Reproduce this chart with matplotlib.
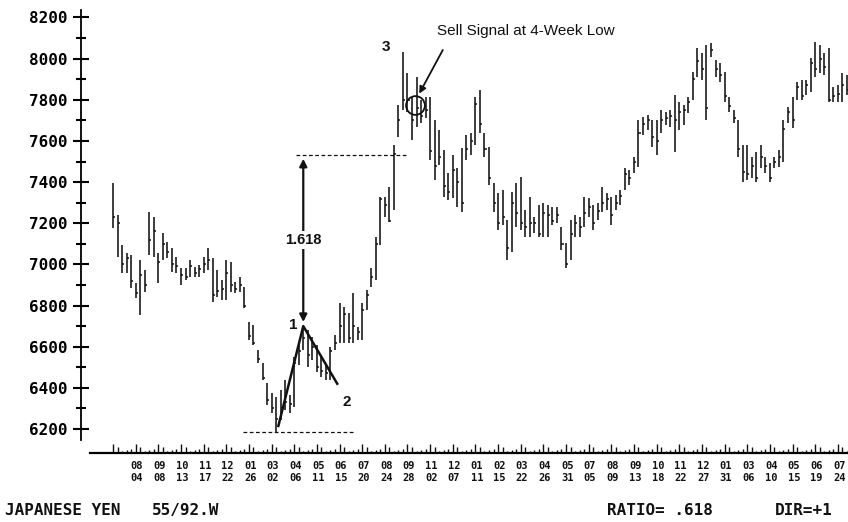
import matplotlib
matplotlib.use("Agg")
import matplotlib.pyplot as plt
from matplotlib.ticker import FixedLocator

# Weekly Japanese yen futures: high / low / close
highs = [
    7396, 7240, 7094, 7055, 7046, 6910, 7021, 6973, 7255, 7230,
    7055, 7153, 7109, 7080, 7036, 6982, 6982, 7021, 6987, 6997,
    7036, 7080, 7031, 6973, 6924, 7021, 7012, 6915, 6939, 6890,
    6720, 6705, 6584, 6521, 6424, 6375, 6356, 6390, 6438, 6365,
    6550, 6608, 6700, 6681, 6647, 6608, 6550, 6511, 6599, 6657,
    6812, 6793, 6764, 6861, 6696, 6812, 6876, 6982, 7133, 7328,
    7328, 7376, 7580, 7775, 8032, 7930, 7813, 7911, 7799, 7813,
    7813, 7702, 7653, 7556, 7444, 7532, 7468, 7566, 7629, 7639,
    7813, 7847, 7639, 7571, 7396, 7347, 7362, 7216, 7352, 7396,
    7425, 7264, 7328, 7230, 7289, 7298, 7289, 7279, 7279, 7182,
    7104, 7216, 7240, 7230, 7328, 7323, 7289, 7298, 7376, 7347,
    7328, 7337, 7362, 7468, 7459, 7522, 7702, 7716, 7726, 7702,
    7702, 7750, 7741, 7750, 7823, 7789, 7775, 7813, 7935, 8052,
    8027, 8066, 8076, 7993, 7979, 7935, 7813, 7750, 7702, 7580,
    7580, 7522, 7546, 7580, 7522, 7493, 7522, 7556, 7702, 7765,
    7813, 7886, 7896, 7896, 8003, 8081, 8066, 8027, 8052, 7862,
    7872, 7930, 7920,
]
lows = [
    7177, 7036, 6958, 6958, 6885, 6837, 6754, 6866, 7046, 7036,
    6910, 7021, 7031, 6963, 6958, 6900, 6924, 6939, 6939, 6939,
    6958, 6973, 6817, 6842, 6827, 6827, 6866, 6861, 6866, 6788,
    6633, 6608, 6521, 6438, 6317, 6278, 6185, 6244, 6292, 6278,
    6307, 6511, 6584, 6501, 6535, 6477, 6453, 6438, 6440, 6584,
    6618, 6618, 6618, 6618, 6633, 6633, 6778, 6890, 6924, 7094,
    7230, 7206, 7264, 7619, 7750, 7741, 7605, 7668, 7687, 7711,
    7507, 7410, 7483, 7328, 7313, 7323, 7279, 7255, 7507, 7532,
    7580, 7639, 7522, 7386, 7255, 7167, 7191, 7021, 7060, 7182,
    7167, 7133, 7133, 7153, 7133, 7133, 7133, 7191, 7201, 7070,
    6982, 7021, 7133, 7133, 7182, 7230, 7167, 7216, 7255, 7264,
    7191, 7264, 7289, 7362, 7386, 7444, 7473, 7629, 7653, 7571,
    7532, 7639, 7677, 7668, 7546, 7653, 7677, 7736, 7799, 7911,
    7896, 7702, 8008, 7911, 7886, 7789, 7741, 7687, 7522, 7400,
    7410, 7420, 7400, 7468, 7444, 7400, 7468, 7473, 7498, 7687,
    7663, 7799, 7799, 7823, 7838, 7911, 7930, 7920, 7789, 7789,
    7789, 7789, 7823,
]
closes = [
    7230, 7200, 7000, 7030, 6920, 6860, 6950, 6900, 7120, 7160,
    7010, 7100, 7060, 7000, 6990, 6950, 6940, 6990, 6960, 6980,
    7000, 7020, 6850, 6870, 6880, 6960, 6900, 6880, 6900, 6800,
    6650, 6620, 6540, 6450, 6340, 6300, 6250, 6300, 6330, 6320,
    6520, 6580, 6640, 6560, 6600, 6500, 6480, 6470, 6580, 6620,
    6700, 6760, 6640, 6700, 6670, 6780, 6850, 6940, 7100, 7320,
    7290, 7210, 7535, 7700, 7800, 7800, 7700, 7760, 7720, 7750,
    7550, 7480, 7520, 7380, 7350, 7460, 7400, 7300, 7560, 7600,
    7780, 7680, 7560, 7420, 7300, 7200, 7230, 7080, 7300, 7250,
    7200, 7180, 7200, 7200, 7150, 7250, 7240, 7210, 7240, 7100,
    7000, 7150, 7200, 7180, 7250, 7280, 7200, 7260, 7300, 7320,
    7240, 7300, 7330, 7440, 7420, 7500, 7640, 7680, 7700, 7620,
    7600, 7700, 7710, 7720, 7700, 7740, 7750, 7790, 7900, 7990,
    7950, 7760, 8040, 7950, 7920, 7820, 7770, 7710, 7560, 7450,
    7440, 7480, 7420, 7520, 7480, 7420, 7500, 7520, 7660, 7740,
    7700, 7860, 7820, 7870, 7980, 7950, 8000, 7960, 7800, 7820,
    7830, 7870, 7850,
]

# Date scale: month / day every five weeks
months = ["08", "09", "10", "11", "12", "01", "03", "04", "05", "06", "07",
          "08", "09", "11", "12", "01", "02", "03", "04", "05", "07", "08",
          "09", "10", "11", "12", "01", "03", "04", "05", "06", "07"]
days = ["04", "08", "13", "17", "22", "26", "02", "06", "11", "15", "20",
        "24", "28", "02", "07", "11", "15", "22", "26", "31", "05", "09",
        "13", "18", "22", "27", "31", "06", "10", "15", "19", "24"]

price_ticks = list(range(6200, 8201, 200))
price_minor = list(range(6300, 8101, 200))

# Swing points used for the Fibonacci projection
low_week, swing_low = 36, 6185
peak_week, point1 = 42, 6700
p2_week, point2 = 48, 6440
ratio = 0.618
target = point1 + (1 + ratio) * (point1 - swing_low)

weeks = list(range(len(highs)))
label_weeks = [5 + 5 * k for k in range(len(months))]

fig = plt.figure(figsize=(8.48, 5.22), dpi=100)
ax = fig.add_axes([0, 0, 1, 1])
ax.set_xlim(-24.95, 162.25)
ax.set_ylim(5748, 8285)
ppx = 4.86          # price units per pixel (vertical)
wpx = 1 / 4.53      # weeks per pixel (horizontal)
x_left = -24.95

ink = "#111111"

# price bars
ax.vlines(weeks, lows, highs, color=ink, lw=1.15)
ax.hlines(closes, weeks, [w + 0.45 for w in weeks], color=ink, lw=1.1)

# axes frame
for side in ("top", "right"):
    ax.spines[side].set_visible(False)
base = 6200 - 24 * ppx
ax.spines["bottom"].set_position(("data", base))
ax.spines["bottom"].set_bounds(-5.1, 162.25)
ax.spines["bottom"].set_linewidth(1.6)
ax.spines["left"].set_position(("data", -32 * wpx))
ax.spines["left"].set_bounds(6147, 8236)
ax.spines["left"].set_linewidth(1.3)

ax.yaxis.set_major_locator(FixedLocator(price_ticks))
ax.yaxis.set_minor_locator(FixedLocator(price_minor))
ax.tick_params(axis="y", which="major", direction="inout", length=11,
               width=1.5, pad=4, labelsize=11.5)
ax.tick_params(axis="y", which="minor", direction="inout", length=6.5, width=1.5)
for lab in ax.get_yticklabels():
    lab.set_fontfamily("DejaVu Sans Mono")
    lab.set_fontweight("bold")
ax.set_xticks([])

# weekly marks on the time scale
tick_h = []
for w in weeks:
    r = (w - 5) % 5
    tick_h.append({0: 9, 1: 6, 2: 2, 3: 3, 4: 4}[r])
ax.vlines(weeks, base, [base + h * ppx for h in tick_h], color=ink, lw=1.0)

mono = dict(family="DejaVu Sans Mono", weight="bold", color=ink)
for w, m, d in zip(label_weeks, months, days):
    ax.text(w + 0.3, 6020, m, ha="center", va="center", fontsize=7.5, **mono)
    ax.text(w + 0.3, 5962, d, ha="center", va="center", fontsize=7.5, **mono)

ax.text(x_left + 5 * wpx, 5806, "JAPANESE YEN", ha="left", va="center", fontsize=11.5, **mono)
ax.text(x_left + 152 * wpx, 5806, "55/92.W", ha="left", va="center", fontsize=11.5, **mono)
ax.text(x_left + 607 * wpx, 5806, "RATIO= .618", ha="left", va="center", fontsize=11.5, **mono)
ax.text(x_left + 775 * wpx, 5806, "DIR=+1", ha="left", va="center", fontsize=11.5, **mono)

# Fibonacci projection construction
ax.plot([low_week + 0.5, peak_week, p2_week + 1.5],
        [swing_low + 30, point1, point2 - 20], color=ink, lw=1.8)
ax.hlines(swing_low, 28.7, 53.4, color=ink, lw=0.9, linestyles=(0, (3, 2)))
ax.hlines(target, 40.4, 64.9, color=ink, lw=0.9, linestyles=(0, (3, 2)))
ax.annotate("", xy=(peak_week, target - 20), xytext=(peak_week, point1 + 20),
            arrowprops=dict(arrowstyle="<|-|>", color=ink, lw=1.6,
                            mutation_scale=11, shrinkA=0, shrinkB=0))
ax.text(peak_week, 7118, "1.618", ha="center", va="center", fontsize=10.5,
        family="Liberation Sans", weight="bold", color=ink,
        bbox=dict(facecolor="white", edgecolor="none", pad=1.5))

ax.text(39.7, 6705, "1", ha="center", va="center", fontsize=11,
        family="Liberation Sans", weight="bold", color=ink)
ax.text(51.7, 6331, "2", ha="center", va="center", fontsize=11,
        family="Liberation Sans", weight="bold", color=ink)
ax.text(60.3, 8057, "3", ha="center", va="center", fontsize=11,
        family="Liberation Sans", weight="bold", color=ink)

# sell signal marker
ax.plot([66.7], [7775], marker="o", ms=13.5, mfc="none", mec=ink, mew=1.3)
ax.annotate("", xy=(67.6, 7830), xytext=(72.8, 8042),
            arrowprops=dict(arrowstyle="-|>", color=ink, lw=1.3,
                            mutation_scale=10, shrinkA=0, shrinkB=0))
ax.text(71.5, 8134, "Sell Signal at 4-Week Low", ha="left", va="center",
        fontsize=11, family="Liberation Sans", color=ink)

fig.savefig("out.png", dpi=100, facecolor="white")
